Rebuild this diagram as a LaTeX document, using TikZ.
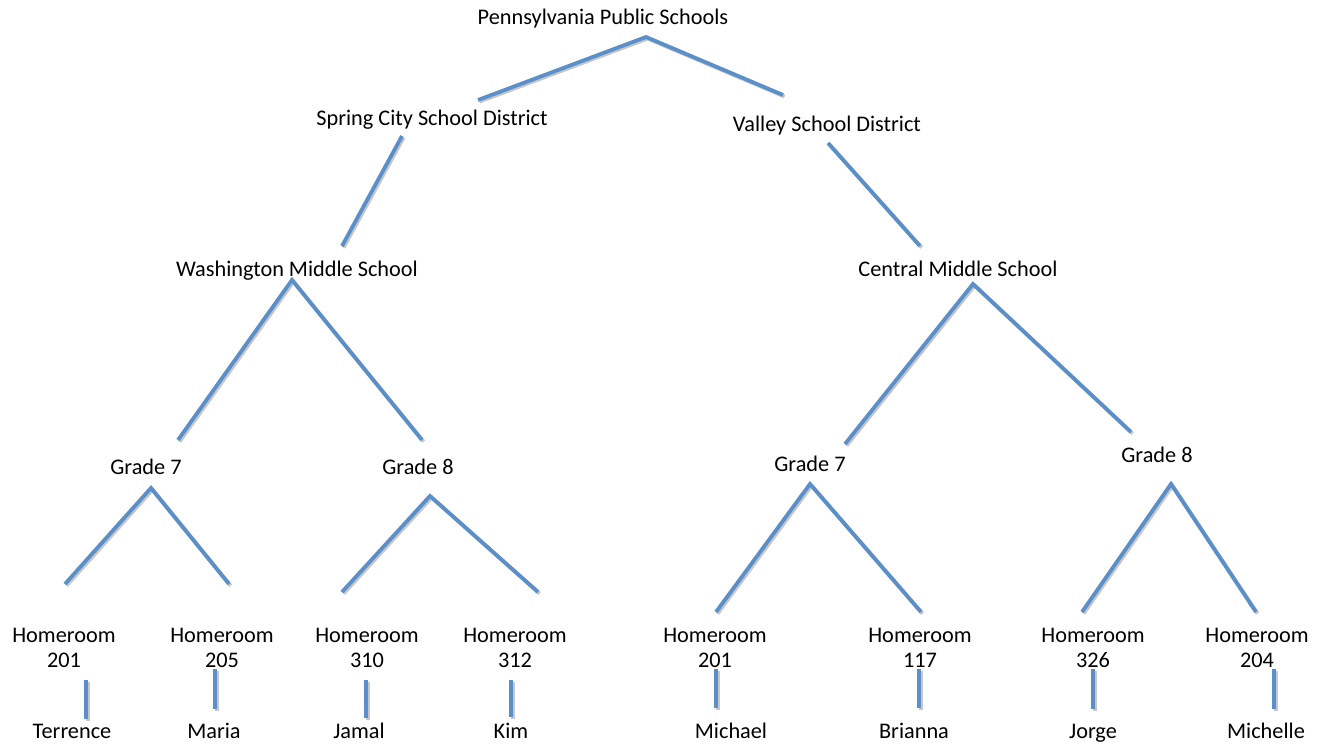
\documentclass[tikz,border=0pt]{standalone}
\usepackage{fontspec}
\setmainfont{Carlito}
\definecolor{branchblue}{RGB}{91,143,201}
\begin{document}
\begin{tikzpicture}[x=1pt,y=-1pt,
  lbl/.style={anchor=base,inner sep=0pt,font=\fontsize{22.3}{25}\selectfont},
  room/.style={lbl,align=center},
  branch/.style={draw=branchblue,line width=3.8pt,line join=miter,
    preaction={draw=black!22,line width=3.8pt,
      transform canvas={shift={(1.6pt,-1.6pt)}}}}]
\useasboundingbox[fill=white] (0,0) rectangle (1325,745);

% ---- labels ----
\node[lbl] (pa)  at (603,24)  {Pennsylvania Public Schools};
\node[lbl] (sc)  at (432,125) {Spring City School District};
\node[lbl] (vs)  at (827,131) {Valley School District};
\node[lbl] (wm)  at (297,276) {Washington Middle School};
\node[lbl] (cm)  at (958,276) {Central Middle School};
\node[lbl] (wg7) at (146,474) {Grade 7};
\node[lbl] (wg8) at (418,474) {Grade 8};
\node[lbl] (cg7) at (810,471) {Grade 7};
\node[lbl] (cg8) at (1157,462) {Grade 8};

% two-line labels: the base anchor sits on the second line
\node[room] (h1) at (64,667)   {Homeroom\\201};
\node[room] (h2) at (222,667)  {Homeroom\\205};
\node[room] (h3) at (367,667)  {Homeroom\\310};
\node[room] (h4) at (515,667)  {Homeroom\\312};
\node[room] (h5) at (715,667)  {Homeroom\\201};
\node[room] (h6) at (920,667)  {Homeroom\\117};
\node[room] (h7) at (1093,667) {Homeroom\\326};
\node[room] (h8) at (1257,667) {Homeroom\\204};

\node[lbl] (s1) at (72,738)   {Terrence};
\node[lbl] (s2) at (214,738)  {Maria};
\node[lbl] (s3) at (359,738)  {Jamal};
\node[lbl] (s4) at (511,738)  {Kim};
\node[lbl] (s5) at (731,738)  {Michael};
\node[lbl] (s6) at (914,738)  {Brianna};
\node[lbl] (s7) at (1093,738) {Jorge};
\node[lbl] (s8) at (1266,738) {Michelle};

% ---- branch end points ----
\coordinate (paP) at (646,37);  \coordinate (paL) at (478,100); \coordinate (paR) at (783,95);
\coordinate (scT) at (402,136); \coordinate (scB) at (342,246);
\coordinate (vsT) at (828,143); \coordinate (vsB) at (920,246);
\coordinate (wmP) at (292,280); \coordinate (wmL) at (178,440); \coordinate (wmR) at (422,440);
\coordinate (cmP) at (973,284); \coordinate (cmL) at (845,444); \coordinate (cmR) at (1131,432);
\coordinate (w7P) at (151,488); \coordinate (w7L) at (65,584);  \coordinate (w7R) at (229,584);
\coordinate (w8P) at (430,496); \coordinate (w8L) at (342,592); \coordinate (w8R) at (538,592);
\coordinate (c7P) at (810,484); \coordinate (c7L) at (716,612); \coordinate (c7R) at (921,612);
\coordinate (c8P) at (1171,484);\coordinate (c8L) at (1082,612);\coordinate (c8R) at (1256,612);

\coordinate (t1) at (86,680);   \coordinate (b1) at (86,719);
\coordinate (t2) at (215,669);  \coordinate (b2) at (215,709);
\coordinate (t3) at (366,680);  \coordinate (b3) at (366,718);
\coordinate (t4) at (511,680);  \coordinate (b4) at (511,717);
\coordinate (t5) at (716,669);  \coordinate (b5) at (716,708);
\coordinate (t6) at (919,669);  \coordinate (b6) at (919,708);
\coordinate (t7) at (1093,669); \coordinate (b7) at (1093,709);
\coordinate (t8) at (1274,669); \coordinate (b8) at (1274,709);

% ---- branches ----
\draw[branch] (paL) -- (paP) -- (paR);
\draw[branch] (scT) -- (scB);
\draw[branch] (vsT) -- (vsB);
\draw[branch] (wmL) -- (wmP) -- (wmR);
\draw[branch] (cmL) -- (cmP) -- (cmR);
\draw[branch] (w7L) -- (w7P) -- (w7R);
\draw[branch] (w8L) -- (w8P) -- (w8R);
\draw[branch] (c7L) -- (c7P) -- (c7R);
\draw[branch] (c8L) -- (c8P) -- (c8R);
\foreach \i in {1,...,8} \draw[branch] (t\i) -- (b\i);
\end{tikzpicture}
\end{document}
